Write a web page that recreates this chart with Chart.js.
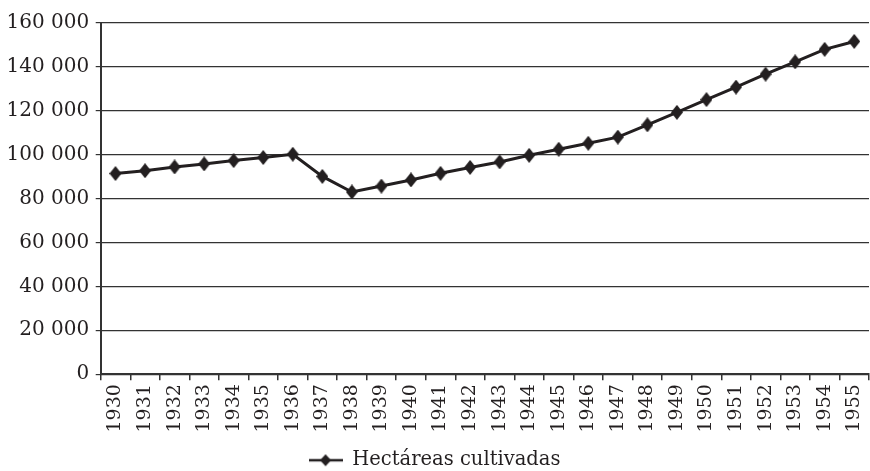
<!DOCTYPE html>
<html>
<head>
<meta charset="utf-8">
<script src="https://cdn.jsdelivr.net/npm/chart.js@4.4.1/dist/chart.umd.min.js"></script>
<style>
  html, body { margin: 0; padding: 0; background: #fff; }
  #wrap { width: 870px; height: 471px; }
</style>
</head>
<body>
<div id="wrap"><canvas id="c" width="870" height="471"></canvas></div>
<script>
const years = ['1930','1931','1932','1933','1934','1935','1936','1937','1938','1939','1940','1941','1942','1943','1944','1945','1946','1947','1948','1949','1950','1951','1952','1953','1954','1955'];
const hectareas = [91400, 92700, 94400, 95800, 97300, 98700, 100200, 90100, 83000, 85700, 88500, 91500, 94200, 96700, 99700, 102500, 105200, 108000, 113600, 119300, 125100, 130800, 136700, 142300, 148000, 151600];
const seriesName = 'Hectáreas cultivadas';
const yTicks = { min: 0, max: 160000, step: 20000 };

const INK = '#231f20';
const FONT = "'DejaVu Serif', 'Liberation Serif', serif";

function diamondCanvas(w, h) {
  const cv = document.createElement('canvas');
  cv.width = w; cv.height = h;
  const g = cv.getContext('2d');
  g.fillStyle = INK;
  g.beginPath();
  g.moveTo(w / 2, 0); g.lineTo(w, h / 2); g.lineTo(w / 2, h); g.lineTo(0, h / 2);
  g.closePath(); g.fill();
  return cv;
}
function legendCanvas() {
  const cv = document.createElement('canvas');
  cv.width = 34; cv.height = 14;
  const g = cv.getContext('2d');
  g.strokeStyle = INK; g.lineWidth = 2.5;
  g.beginPath(); g.moveTo(0, 7); g.lineTo(34, 7); g.stroke();
  g.fillStyle = INK;
  g.beginPath(); g.moveTo(17, 1); g.lineTo(22.5, 7); g.lineTo(17, 13); g.lineTo(11.5, 7); g.closePath(); g.fill();
  return cv;
}
const marker = diamondCanvas(12, 15);

function fmt(v) { return String(v).replace(/\B(?=(\d{3})+(?!\d))/g, ' '); }

new Chart(document.getElementById('c'), {
  type: 'line',
  data: {
    labels: years,
    datasets: [{
      label: seriesName,
      data: hectareas,
      borderColor: INK,
      backgroundColor: INK,
      borderWidth: 3,
      pointStyle: marker,
      pointRadius: 8,
      pointHoverRadius: 8,
      tension: 0,
      fill: false
    }]
  },
  options: {
    responsive: false,
    animation: false,
    events: [],
    layout: { autoPadding: false, padding: { top: 23, right: 1, left: 0, bottom: -9 } },
    plugins: {
      tooltip: { enabled: false },
      legend: {
        position: 'bottom',
        labels: {
          usePointStyle: true,
          pointStyle: legendCanvas(),
          pointStyleWidth: 34,
          boxHeight: 14,
          color: INK,
          font: { family: FONT, size: 19.5 },
          padding: 14
        }
      }
    },
    scales: {
      x: {
        offset: true,
        afterFit: s => { s.paddingRight = 0; },
        grid: { drawOnChartArea: false, offset: true, tickLength: 6, color: '#333', lineWidth: 1.5 },
        border: { color: '#333', width: 2 },
        ticks: { color: INK, font: { family: FONT, size: 19 }, minRotation: 90, maxRotation: 90, padding: 4, autoSkip: false }
      },
      y: {
        min: yTicks.min, max: yTicks.max,
        grid: { color: '#333', lineWidth: 1.2, tickLength: 5 },
        border: { color: '#333', width: 2 },
        ticks: { stepSize: yTicks.step, color: INK, font: { family: FONT, size: 20 }, padding: 6.5, callback: v => fmt(v) }
      }
    }
  }
});
</script>
</body>
</html>
